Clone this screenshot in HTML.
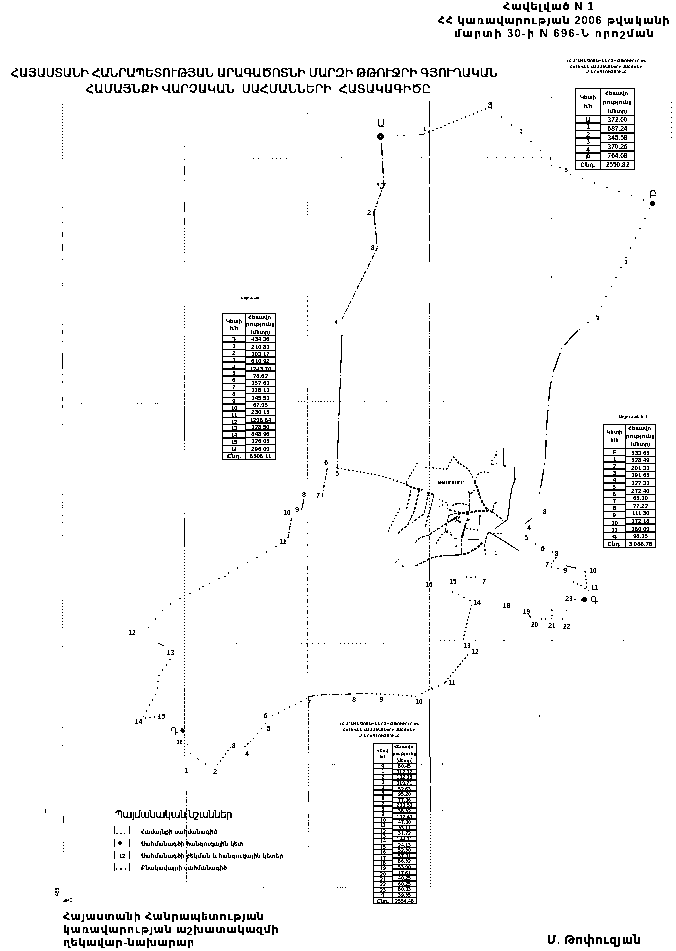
<!DOCTYPE html>
<html lang="hy"><head><meta charset="utf-8"><title>Հավելված N 1</title>
<style>
html,body{margin:0;padding:0;background:#fff}
body{width:676px;height:951px;position:relative;overflow:hidden;font-family:'Liberation Sans','DejaVu Sans',sans-serif;color:#000}
.t{position:absolute;white-space:pre;line-height:1;margin:0}
.b{font-weight:bold}
.ts{-webkit-text-stroke:.3px #000}
.ts2{-webkit-text-stroke:.2px #000}
svg{position:absolute;left:0;top:0}
svg text{font-family:'Liberation Sans','DejaVu Sans',sans-serif;fill:#000}
.ln{fill:none;stroke:#000;stroke-width:1}
.d1{stroke-dasharray:1.4 3;stroke-width:1.3}
.d2{stroke-dasharray:1.8 2;stroke-width:1.25}
.d3{stroke-dasharray:4 1.5 1.4 1.5;stroke-width:1.15}
.d4{stroke-dasharray:1.4 5;stroke-width:1.3}
.v{stroke-dasharray:3 1.3;stroke-width:1.2}
.v2{stroke-dasharray:1.7 1.8;stroke-width:1.2}
.vb{stroke-dasharray:3 1;stroke-width:1.8}
.g{fill:none;stroke:#000;stroke-width:1;stroke-dasharray:1 2}
.g2{fill:none;stroke:#000;stroke-width:1;stroke-dasharray:1 4}
.g4{fill:none;stroke:#000;stroke-width:1;stroke-dasharray:1.2 10}
.g3{fill:none;stroke:#000;stroke-width:1;stroke-dasharray:1 8}
.d5{stroke-dasharray:3 1}
.s1{stroke-dasharray:1.4 3;stroke-width:1.3}
.s2{stroke-dasharray:1.4 5;stroke-width:1.3}
.s3{stroke-dasharray:1.4 8;stroke-width:1.3}
.d9{stroke-dasharray:7 2 1 2}
.d10{stroke-dasharray:4 3 1 3}
.d13{stroke-dasharray:11 1.5 1 1.5 1 1.5}
.d14{stroke-dasharray:38 2 1 2}
.d11{stroke-dasharray:13 2 1.4 2;stroke-width:1.15}
.d12{stroke-dasharray:20 4 1.4 4;stroke-width:1.15}
.s4{stroke-dasharray:1.4 9.5;stroke-width:1.3}
.s5{stroke-dasharray:1.4 11.5;stroke-width:1.3}
.d6{stroke-dasharray:1 3 3 2}
.d7{stroke-dasharray:1 6 1 3}
.d8{stroke-dasharray:26 2.5}
.tb{fill:none;stroke:#000;stroke-width:1}
.tb2{fill:none;stroke:#000;stroke-width:2}

</style></head><body>
<svg width="0" height="0" style="position:absolute"><defs><filter id="bw" x="0" y="0" width="100%" height="100%" color-interpolation-filters="sRGB"><feComponentTransfer><feFuncR type="discrete" tableValues="0 0 0 0 0 0 0 0 0 0 0 1 1 1 1 1 1 1 1 1"/><feFuncG type="discrete" tableValues="0 0 0 0 0 0 0 0 0 0 0 1 1 1 1 1 1 1 1 1"/><feFuncB type="discrete" tableValues="0 0 0 0 0 0 0 0 0 0 0 1 1 1 1 1 1 1 1 1"/></feComponentTransfer></filter></defs></svg>
<div id="page" style="position:absolute;left:0;top:0;width:676px;height:951px;background:#fff;filter:url(#bw)">
<div class="t b" style="left:503px;top:0.5px;font-size:11px;letter-spacing:1.0px;">Հավելված N 1</div>
<div class="t b" style="left:437.5px;top:14.5px;font-size:11px;letter-spacing:0.92px;">ՀՀ կառավարության 2006 թվականի</div>
<div class="t b" style="left:454px;top:28px;font-size:11px;letter-spacing:1.36px;">մարտի 30-ի N 696-Ն որոշման</div>
<div class="t ts" style="left:10.5px;top:67px;font-size:12px;letter-spacing:-0.1px;">ՀԱՅԱՍՏԱՆԻ ՀԱՆՐԱՊԵՏՈՒԹՅԱՆ ԱՐԱԳԱԾՈՏՆԻ ՄԱՐԶԻ ԹԹՈՒՋՐԻ ԳՅՈՒՂԱԿԱՆ</div>
<div class="t ts" style="left:85.5px;top:83px;font-size:12px;letter-spacing:0.2px;">ՀԱՄԱՅՆՔԻ ՎԱՐՉԱԿԱՆ  ՍԱՀՄԱՆՆԵՐԻ  ՀԱՏԱԿԱԳԻԾԸ</div>
<div class="t ts2" style="left:115px;top:809.5px;font-size:10px;letter-spacing:-0.4px;">Պայմանական նշաններ</div>
<div class="t b" style="left:141px;top:829.2px;font-size:6.5px;transform:scaleX(.9);transform-origin:0 0;">Համայնքի սահմանագիծ</div>
<div class="t b" style="left:141px;top:841.2px;font-size:6.5px;transform:scaleX(.9);transform-origin:0 0;">Սահմանագծի հանգուցային կետ</div>
<div class="t b" style="left:141px;top:853.2px;font-size:6.5px;transform:scaleX(.9);transform-origin:0 0;">Սահմանագծի բեկման և հանգուցային կետեր</div>
<div class="t b" style="left:141px;top:865.2px;font-size:6.5px;transform:scaleX(.9);transform-origin:0 0;">Բնակավայրի սահմանագիծ</div>
<div class="t b" style="left:63px;top:911px;font-size:11px;letter-spacing:0.6px;">Հայաստանի Հանրապետության</div>
<div class="t b" style="left:63px;top:924px;font-size:11px;letter-spacing:0.65px;">կառավարության աշխատակազմի</div>
<div class="t b" style="left:63px;top:937px;font-size:11px;letter-spacing:0.6px;">ղեկավար-նախարար</div>
<div class="t b" style="left:547px;top:934px;font-size:12px;letter-spacing:0.4px;">Մ. Թոփուզյան</div>
<svg width="676" height="951" viewBox="0 0 676 951">
<g id="grid" shape-rendering="crispEdges">
<line class="g" x1="62.5" y1="104" x2="62.5" y2="161"/>
<rect x="62.0" y="207" width="1" height="1.2"/>
<rect x="62.0" y="222" width="1" height="1.2"/>
<rect x="62.0" y="258.6" width="1" height="1.2"/>
<rect x="62.0" y="283" width="1" height="1.2"/>
<rect x="62.0" y="284.5" width="1" height="1.2"/>
<rect x="62.0" y="324" width="1" height="1.2"/>
<line class="ln" x1="62.5" y1="232" x2="62.5" y2="237"/>
<line class="ln" x1="62.5" y1="244" x2="62.5" y2="251"/>
<line class="ln" x1="62.5" y1="330" x2="62.5" y2="334"/>
<rect x="62.0" y="340.6" width="1" height="1.2"/>
<rect x="62.0" y="374" width="1" height="1.2"/>
<rect x="62.0" y="424" width="1" height="1.2"/>
<line class="ln" x1="62.5" y1="353" x2="62.5" y2="369"/>
<line class="ln" x1="62.5" y1="381" x2="62.5" y2="383"/>
<line class="ln" x1="62.5" y1="397" x2="62.5" y2="401"/>
<line class="ln" x1="62.5" y1="405" x2="62.5" y2="408"/>
<rect x="62.0" y="494" width="1" height="1.2"/>
<rect x="62.0" y="502" width="1" height="1.2"/>
<rect x="62.0" y="504.5" width="1" height="1.2"/>
<rect x="62.0" y="507" width="1" height="1.2"/>
<rect x="62.0" y="514.6" width="1" height="1.2"/>
<rect x="62.0" y="521.7" width="1" height="1.2"/>
<rect x="62.0" y="534.8" width="1" height="1.2"/>
<line class="g" x1="62.5" y1="600" x2="62.5" y2="629"/>
<rect x="62.0" y="646" width="1" height="1.2"/>
<rect x="62.0" y="727" width="1" height="1.2"/>
<rect x="62.0" y="745" width="1" height="1.2"/>
<line class="ln" x1="63.5" y1="815.7" x2="63.5" y2="822.8"/>
<line class="g" x1="63.5" y1="842" x2="63.5" y2="853"/>
<line class="ln" x1="45.5" y1="809" x2="45.5" y2="813"/>
<rect x="184.0" y="146" width="1" height="1.2"/>
<rect x="184.0" y="159" width="1" height="1.2"/>
<rect x="184.0" y="180" width="1" height="1.2"/>
<rect x="184.0" y="261" width="1" height="1.2"/>
<line class="ln" x1="184.5" y1="166" x2="184.5" y2="175"/>
<line class="ln" x1="184.5" y1="202" x2="184.5" y2="212"/>
<line class="ln" x1="184.5" y1="218" x2="184.5" y2="225"/>
<line class="g" x1="184.5" y1="228" x2="184.5" y2="253"/>
<line class="g" x1="184.5" y1="306" x2="184.5" y2="330"/>
<line class="g" x1="184.5" y1="336" x2="184.5" y2="376"/>
<line class="ln d3" x1="184.5" y1="376" x2="184.5" y2="406"/>
<line class="ln" x1="184.5" y1="406" x2="184.5" y2="440"/>
<line class="g" x1="184.5" y1="440" x2="184.5" y2="451"/>
<rect x="184.0" y="513" width="1" height="1.2"/>
<line class="ln" x1="184.5" y1="518" x2="184.5" y2="546.5"/>
<line class="g" x1="184.5" y1="550" x2="184.5" y2="689"/>
<line class="ln d5" x1="184.5" y1="689" x2="184.5" y2="728"/>
<line class="g" x1="184.5" y1="728" x2="184.5" y2="757"/>
<line class="ln d3" x1="186.5" y1="791" x2="186.5" y2="883"/>
<line class="g" x1="307.5" y1="202" x2="307.5" y2="216"/>
<line class="g2" x1="307.5" y1="296" x2="307.5" y2="320"/>
<line class="g2" x1="307.5" y1="300" x2="307.5" y2="340"/>
<line class="ln d3" x1="307.5" y1="388" x2="307.5" y2="479"/>
<line class="g4" x1="307.5" y1="522" x2="307.5" y2="566"/>
<line class="ln d10" x1="307.5" y1="566" x2="307.5" y2="673"/>
<line class="ln d3" x1="308.5" y1="696" x2="308.5" y2="754"/>
<line class="g" x1="308.5" y1="764" x2="308.5" y2="786"/>
<line class="ln" x1="308.5" y1="791" x2="308.5" y2="801.5"/>
<line class="ln d3" x1="308.5" y1="814" x2="308.5" y2="832"/>
<rect x="308.0" y="846" width="1" height="1.2"/>
<line class="ln d8" x1="429.5" y1="101" x2="429.5" y2="262"/>
<line class="ln d13" x1="429.5" y1="303" x2="429.5" y2="466"/>
<line class="g" x1="429.5" y1="468" x2="429.5" y2="528"/>
<line class="ln d3" x1="429.5" y1="528" x2="429.5" y2="558"/>
<line class="ln" x1="429.5" y1="558" x2="429.5" y2="581"/>
<line class="ln d3" x1="429.5" y1="588" x2="429.5" y2="690"/>
<line class="ln" x1="429.5" y1="699" x2="429.5" y2="757"/>
<line class="ln d8" x1="430.5" y1="757" x2="430.5" y2="814"/>
<line class="g" x1="430.5" y1="814" x2="430.5" y2="887"/>
<rect x="551.0" y="97" width="1" height="1.2"/>
<rect x="551.0" y="164.5" width="1" height="1.2"/>
<rect x="551.0" y="217.8" width="1" height="1.2"/>
<rect x="551.0" y="276.4" width="1" height="1.2"/>
<rect x="551.0" y="609" width="1" height="1.2"/>
<rect x="551.0" y="617.7" width="1" height="1.2"/>
<line class="g2" x1="671.5" y1="102" x2="671.5" y2="141"/>
<rect x="252.5" y="158.0" width="1.2" height="1"/>
<rect x="257.5" y="158.0" width="1.2" height="1"/>
<rect x="272" y="158.0" width="1.2" height="1"/>
<rect x="276" y="158.0" width="1.2" height="1"/>
<rect x="280" y="158.0" width="1.2" height="1"/>
<rect x="286" y="158.0" width="1.2" height="1"/>
<rect x="340.8" y="157.0" width="1.2" height="1"/>
<rect x="420.7" y="157.0" width="1.2" height="1"/>
<rect x="307.0" y="112.5" width="1" height="1.2"/>
<line class="g3" x1="487" y1="157.5" x2="551" y2="157.5"/>
<line class="g" x1="298" y1="401.5" x2="306" y2="401.5"/>
<line class="g" x1="312" y1="401.5" x2="336" y2="401.5"/>
<rect x="320" y="401.0" width="1.2" height="1"/>
<rect x="340" y="401.0" width="1.2" height="1"/>
<rect x="363.5" y="401.0" width="1.2" height="1"/>
<rect x="386" y="401.0" width="1.2" height="1"/>
<rect x="443" y="401.0" width="1.2" height="1"/>
<rect x="80.5" y="403.0" width="1.2" height="1"/>
<rect x="137" y="403.0" width="1.2" height="1"/>
<rect x="141" y="403.0" width="1.2" height="1"/>
<rect x="155" y="403.0" width="1.2" height="1"/>
<rect x="157" y="403.0" width="1.2" height="1"/>
<rect x="439.5" y="640.0" width="1.2" height="1"/>
<rect x="444" y="640.0" width="1.2" height="1"/>
<rect x="449" y="640.0" width="1.2" height="1"/>
<rect x="454" y="640.0" width="1.2" height="1"/>
<rect x="475" y="640.0" width="1.2" height="1"/>
<rect x="503.4" y="640.0" width="1.2" height="1"/>
<rect x="551.4" y="640.0" width="1.2" height="1"/>
<rect x="623" y="640.0" width="1.2" height="1"/>
<rect x="235.5" y="643.0" width="1.2" height="1"/>
<rect x="301" y="643.0" width="1.2" height="1"/>
<rect x="306" y="643.0" width="1.2" height="1"/>
<rect x="312" y="643.0" width="1.2" height="1"/>
<rect x="318" y="643.0" width="1.2" height="1"/>
<rect x="324" y="643.0" width="1.2" height="1"/>
<rect x="340" y="643.0" width="1.2" height="1"/>
<rect x="344" y="643.0" width="1.2" height="1"/>
<rect x="348" y="643.0" width="1.2" height="1"/>
<rect x="352" y="643.0" width="1.2" height="1"/>
<rect x="356" y="643.0" width="1.2" height="1"/>
<rect x="360" y="643.0" width="1.2" height="1"/>
<rect x="365" y="643.0" width="1.2" height="1"/>
<rect x="383" y="643.0" width="1.2" height="1"/>
<rect x="332" y="764.0" width="1.2" height="1"/>
<rect x="333.5" y="764.0" width="1.2" height="1"/>
<rect x="420.6" y="764.0" width="1.2" height="1"/>
<rect x="441.9" y="764.0" width="1.2" height="1"/>
<rect x="262.6" y="887.0" width="1.2" height="1"/>
<rect x="337" y="887.0" width="1.2" height="1"/>
<rect x="339.5" y="887.0" width="1.2" height="1"/>
<rect x="342" y="887.0" width="1.2" height="1"/>
<rect x="344.5" y="887.0" width="1.2" height="1"/>
<rect x="442.0" y="763.3" width="1" height="1.2"/>
<rect x="442.0" y="810" width="1" height="1.2"/>
<rect x="538.5" y="715.4" width="1" height="1.2"/>
<rect x="202.3" y="585.5" width="1.2" height="1"/>
<rect x="224.3" y="576.1" width="1.2" height="1"/>
</g>
<g id="boundary">
<polyline class="ln d11" points="381.5,143 383.8,185"/>
<polyline class="ln d3" points="383.8,185 373.8,212.5"/>
<polyline class="ln d11" points="373.8,212.5 377.4,248"/>
<polyline class="ln d3" points="377.4,248 340.8,321.4"/>
<polyline class="ln d14" points="342,335 337,468"/>
<polyline class="ln d2" points="337,468 380,475.5 406,484"/>
<polyline class="ln d3" points="327.3,468 322,497"/>
<polyline class="ln" points="304,499 301.4,510.4"/>
<polyline class="ln d3" points="291.5,517.7 288,538.4"/>
<polyline class="ln s4" points="286,541 203.5,587 177.5,599.6 165,607.4 152.6,622.4 143.8,633"/>
<polyline class="ln" points="157.8,642.9 164,645.9"/>
<polyline class="ln s2" points="170.4,659 159,675.6 156.5,693 147.7,708.3 142,719"/>
<polyline class="ln s1" points="145,718 161.5,716"/>
<polyline class="ln s3" points="184,735 190.5,753.5 204.3,763.6 213,766"/>
<polyline class="ln s1" points="217,765 231,747"/>
<polyline class="ln d2" points="244.6,747.3 250.8,741"/>
<polyline class="ln s2" points="253,739 267,722"/>
<polyline class="ln s2" points="272,716 295.8,704 308,697.5"/>
<polyline class="ln d9" points="308.5,696.5 320.7,695 366.8,693.4"/>
<polyline class="ln s1" points="366.8,693.4 418.3,696.2"/>
<polyline class="ln d2" points="421,694 427,691 432.5,687.3"/>
<polyline class="ln s2" points="397,135.5 408,135.5"/>
<line class="ln" x1="419" y1="134.5" x2="423.5" y2="134.5"/>
<text x="424.5" y="131" font-size="5.6" text-anchor="middle" font-weight="bold">1</text>
<polyline class="ln d2" points="377,183.5 386,183.5"/>
<polyline class="ln d2" points="378,184 381.5,190 385,184"/>
<polyline class="ln s1" points="424,134 489,107.5"/>
<polyline class="ln s5" points="491,108 521,133 566,173 652,203"/>
<polyline class="ln s4" points="650,208 624,261.5 595.7,317.2 578,330"/>
<polyline class="ln d12" points="578,330 562,347.7 553,372.6 549.6,390 546.7,425.8 545.3,461 539,496.8"/>
<polyline class="ln s3" points="527,539 543,548 556,553"/>
<polyline class="ln d2" points="556.5,557 549.5,566"/>
<polyline class="ln s2" points="551,567 565,570"/>
<polyline class="ln" points="565.5,565.7 576.2,568.2"/>
<polyline class="ln d2" points="585,571 586.8,588.7"/>
<polyline class="ln s1" points="572.6,581.6 583.3,587 588.6,590.5"/>
<polyline class="ln s2" points="582,600 571,599"/>
<polyline class="ln s3" points="567,610 561,622"/>
<polyline class="ln s1" points="552,610 552,618"/>
<polyline class="ln s1" points="540.7,619 546,619"/>
<polyline class="ln" points="527.5,613 531,618"/>
<polyline class="ln s2" points="452,591.6 471.5,601"/>
<polyline class="ln d2" points="471.5,604.7 462.6,642"/>
<polyline class="ln d2" points="468,654.4 444.8,682.8"/>
<polyline class="ln s2" points="444.8,682.8 431,690"/>
</g>
<g id="village">
<polyline class="ln v2" points="406.0,482.6 417.9,462.0"/>
<polyline class="ln vb" points="406.0,484.0 412.0,487.9 422.6,489.9"/>
<polyline class="ln vb" points="427.3,492.6 433.9,494.6"/>
<polyline class="ln v2" points="425.3,467.3 446.6,469.3 453.2,456.7 459.9,463.3 470.0,471.3"/>
<polyline class="ln v" points="410.6,489.9 410.0,495.3 406.6,508.6"/>
<polyline class="ln v2" points="400.0,508.6 393.3,520.6 386.7,534.5"/>
<polyline class="ln v" points="419.3,489.9 414.6,509.9 408.0,524.6 398.0,533.2"/>
<polyline class="ln v" points="428.6,493.3 423.9,513.9 419.9,516.6 412.6,522.6"/>
<polyline class="ln v" points="433.9,494.6 431.3,505.9 427.9,516.6 425.3,527.2"/>
<polyline class="ln v2" points="438.6,499.3 446.6,502.6 447.9,508.6"/>
<polyline class="ln v2" points="438.6,507.2 443.9,504.6"/>
<polyline class="ln v2" points="451.9,505.9 457.2,503.3 465.2,503.9 470.0,505.9"/>
<polyline class="ln v" points="449.2,509.9 454.6,511.2 459.9,512.6 470.0,515.2"/>
<polyline class="ln v" points="449.2,515.2 446.6,524.6 445.2,531.2 451.9,535.2"/>
<polyline class="ln v" points="454.6,517.2 459.9,522.6"/>
<polyline class="ln v" points="459.9,516.6 454.6,522.6"/>
<polyline class="ln v" points="465.2,524.6 462.5,537.9"/>
<polyline class="ln" points="503.9,447.3 503.9,466.0 506.6,466.0"/>
<polyline class="ln v2" points="496.6,450.7 495.9,456.0 491.9,460.0 491.3,465.3 497.3,463.3"/>
<polyline class="ln v2" points="453.3,456.6 458.0,462.6 466.0,467.3 470.0,472.0 474.6,481.3"/>
<polyline class="ln v2" points="474.6,481.3 478.6,473.3 484.6,472.0 490.6,473.3"/>
<polyline class="ln" points="514.6,467.3 515.0,479.9 511.9,487.9 509.9,499.9 508.6,511.9 507.2,519.9 503.3,522.5 495.3,528.5"/>
<polyline class="ln vb" points="474.6,481.3 476.6,486.6 478.6,491.9 480.6,498.6 484.6,506.6 488.6,510.6"/>
<polyline class="ln v" points="468.6,491.3 470.0,494.6 474.6,489.9"/>
<polyline class="ln v" points="469.3,494.6 469.3,511.9"/>
<polyline class="ln vb" points="458.0,512.6 470.0,512.6 476.6,511.2 488.6,510.6 492.6,511.9"/>
<polyline class="ln v" points="492.6,511.9 493.9,503.9 497.9,501.9"/>
<polyline class="ln v" points="492.6,511.9 503.3,520.5"/>
<polyline class="ln v2" points="452.7,505.2 459.3,503.2 466.0,504.6"/>
<polyline class="ln v" points="450.0,514.6 460.7,512.6"/>
<polyline class="ln v" points="450.0,521.2 458.0,517.2 460.7,522.5"/>
<polyline class="ln v" points="480.0,514.6 479.3,525.2"/>
<polyline class="ln vb" points="467.3,519.9 471.3,519.2"/>
<polyline class="ln v" points="415.3,542.6 419.9,537.9 429.3,534.6 438.6,528.6 446.6,523.3 454.6,518.6 459.9,513.3 470.0,511.3"/>
<polyline class="ln v2" points="395.3,562.6 399.3,558.6"/>
<polyline class="ln v2" points="402.0,565.9 406.6,567.2"/>
<polyline class="ln v" points="415.3,565.9 425.3,561.2 429.3,558.6 437.2,556.6 446.6,555.3"/>
<polyline class="ln" points="446.6,555.3 461.2,554.9 461.2,550.6"/>
<polyline class="ln v" points="461.2,550.6 461.9,535.9 465.2,526.6 467.9,517.3"/>
<polyline class="ln v2" points="435.9,543.9 441.2,535.3 446.6,530.6 450.6,532.6"/>
<polyline class="ln v" points="453.9,538.6 457.9,538.6"/>
<polyline class="ln v" points="454.6,546.6 458.6,545.3"/>
<polyline class="ln" points="488.6,532.0 503.3,540.6 518.6,550.6"/>
<polyline class="ln v" points="488.6,532.0 485.9,538.6 484.6,545.3 485.3,554.6"/>
<polyline class="ln vb" points="463.3,554.6 470.0,551.9 478.0,547.3 482.6,542.6"/>
<polyline class="ln" points="468.0,539.3 478.6,539.3"/>
<polyline class="ln v2" points="466.0,528.6 478.0,530.0"/>
<polyline class="ln v" points="479.3,517.3 479.3,526.0"/>
<polyline class="ln v2" points="489.9,533.3 501.9,533.3"/>
<polyline class="ln" points="524.6,524.6 532.5,517.3"/>
<polyline class="ln d1" points="466.0,577.2 476.6,577.2"/>
<text x="450.6" y="484.1" font-size="4.5" text-anchor="middle" font-weight="bold">ԹԹՈՒՋՈՒՐ</text>
<text x="495.9" y="554.6" font-size="5" text-anchor="middle" font-weight="bold">1</text>
</g>
<circle cx="380.5" cy="136.5" r="2.1" fill="#fff" stroke="#000" stroke-width="2.1"/>
<circle cx="652.5" cy="203.5" r="2.7" fill="#000"/>
<circle cx="584.5" cy="599.5" r="2.7" fill="#000"/>
<circle cx="182.5" cy="730.5" r="2.2" fill="#000"/>
<text x="381" y="127" font-size="10" text-anchor="middle">Ա</text>
<text x="653" y="198" font-size="10" text-anchor="middle">Բ</text>
<text x="594" y="603.5" font-size="10" text-anchor="middle">Գ</text>
<text x="174" y="735" font-size="10" text-anchor="middle">Դ</text>
<text x="490" y="107.5" font-size="9.0" text-anchor="middle" font-weight="bold">3</text>
<text x="521" y="133" font-size="5.6" text-anchor="middle" font-weight="bold">3</text>
<text x="566.5" y="172" font-size="5.6" text-anchor="middle" font-weight="bold">5</text>
<text x="626" y="264" font-size="5.6" text-anchor="middle" font-weight="bold">1</text>
<text x="598" y="320" font-size="5.6" text-anchor="middle" font-weight="bold">2</text>
<text x="369" y="214.5" font-size="6.6" text-anchor="middle" font-weight="bold">2</text>
<text x="372.5" y="250" font-size="6.6" text-anchor="middle" font-weight="bold">3</text>
<text x="336" y="324" font-size="5.6" text-anchor="middle" font-weight="bold">4</text>
<text x="337" y="475.5" font-size="6.6" text-anchor="middle" font-weight="bold">5</text>
<text x="326" y="465" font-size="6.6" text-anchor="middle" font-weight="bold">6</text>
<text x="318" y="498" font-size="6.6" text-anchor="middle" font-weight="bold">7</text>
<text x="304" y="497" font-size="7.0" text-anchor="middle" font-weight="bold">8</text>
<text x="297" y="512" font-size="6.6" text-anchor="middle" font-weight="bold">9</text>
<text x="287" y="515" font-size="6.6" text-anchor="middle" font-weight="bold">10</text>
<text x="283" y="544" font-size="6.6" text-anchor="middle" font-weight="bold">11</text>
<text x="132" y="635" font-size="6.6" text-anchor="middle" font-weight="bold">12</text>
<text x="170.5" y="654.5" font-size="6.6" text-anchor="middle" font-weight="bold">13</text>
<text x="138.5" y="723.5" font-size="6.6" text-anchor="middle" font-weight="bold">14</text>
<text x="161.5" y="718.5" font-size="6.6" text-anchor="middle" font-weight="bold">15</text>
<text x="179.5" y="744" font-size="5.6" text-anchor="middle" font-weight="bold">16</text>
<text x="186" y="772.5" font-size="6.5" text-anchor="middle" font-weight="bold">1</text>
<text x="215" y="774" font-size="6.6" text-anchor="middle" font-weight="bold">2</text>
<text x="233.5" y="748" font-size="6.6" text-anchor="middle" font-weight="bold">3</text>
<text x="247" y="755.5" font-size="6.6" text-anchor="middle" font-weight="bold">4</text>
<text x="268.5" y="731" font-size="6.6" text-anchor="middle" font-weight="bold">5</text>
<text x="265.5" y="718" font-size="6.6" text-anchor="middle" font-weight="bold">6</text>
<text x="309" y="704.5" font-size="6.6" text-anchor="middle" font-weight="bold">7</text>
<text x="354" y="702" font-size="6.6" text-anchor="middle" font-weight="bold">8</text>
<text x="381.5" y="702" font-size="6.6" text-anchor="middle" font-weight="bold">9</text>
<text x="419" y="704" font-size="6.6" text-anchor="middle" font-weight="bold">10</text>
<text x="544.5" y="514" font-size="6.6" text-anchor="middle" font-weight="bold">3</text>
<text x="529" y="530" font-size="6.6" text-anchor="middle" font-weight="bold">4</text>
<text x="526" y="540" font-size="6.6" text-anchor="middle" font-weight="bold">5</text>
<text x="542.5" y="551" font-size="6.6" text-anchor="middle" font-weight="bold">6</text>
<text x="556.5" y="556" font-size="6.6" text-anchor="middle" font-weight="bold">8</text>
<text x="547" y="567" font-size="6.6" text-anchor="middle" font-weight="bold">7</text>
<text x="565.5" y="573" font-size="6.6" text-anchor="middle" font-weight="bold">9</text>
<text x="593" y="572.5" font-size="6.6" text-anchor="middle" font-weight="bold">10</text>
<text x="594.5" y="589.5" font-size="6.6" text-anchor="middle" font-weight="bold">11</text>
<text x="569" y="601" font-size="6.6" text-anchor="middle" font-weight="bold">23</text>
<text x="566.5" y="629" font-size="6.6" text-anchor="middle" font-weight="bold">22</text>
<text x="552" y="627.5" font-size="6.6" text-anchor="middle" font-weight="bold">21</text>
<text x="534.5" y="627" font-size="6.6" text-anchor="middle" font-weight="bold">20</text>
<text x="526.5" y="613.5" font-size="6.6" text-anchor="middle" font-weight="bold">19</text>
<text x="506.5" y="608" font-size="6.6" text-anchor="middle" font-weight="bold">18</text>
<text x="429" y="586.5" font-size="6.6" text-anchor="middle" font-weight="bold">16</text>
<text x="453" y="584" font-size="6.6" text-anchor="middle" font-weight="bold">15</text>
<text x="484" y="583.5" font-size="6.6" text-anchor="middle" font-weight="bold">7</text>
<text x="477" y="604.5" font-size="6.6" text-anchor="middle" font-weight="bold">14</text>
<text x="467" y="648" font-size="6.6" text-anchor="middle" font-weight="bold">13</text>
<text x="475" y="654" font-size="6.6" text-anchor="middle" font-weight="bold">12</text>
<text x="452" y="684.5" font-size="6.6" text-anchor="middle" font-weight="bold">11</text>
<g id="tables">
<text x="606" y="62" font-size="3.85" text-anchor="middle" font-weight="bold">ՀՀ ԱՐԱԳԱԾՈՏՆԻ ՄԱՐԶԻ ԹԹՈՒՋՈՒՐ ԵՎ</text>
<text x="606" y="67.5" font-size="3.85" text-anchor="middle" font-weight="bold">ՀԱՐԵՎԱՆ ՀԱՄԱՅՆՔՆԵՐԻ ՍԱՀՄԱՆԻ</text>
<text x="606" y="73" font-size="3.85" text-anchor="middle" font-weight="bold">ՆԿԱՐԱԳՐՈՒԹՅՈՒՆԸ</text>
<rect class="tb" x="575.5" y="88.5" width="59.0" height="81.0"/>
<line class="tb" x1="600.5" y1="88.5" x2="600.5" y2="169.5"/>
<line class="tb" x1="575.5" y1="115.5" x2="634.5" y2="115.5"/>
<text x="588.0" y="99.4" font-size="5.5" text-anchor="middle" font-weight="bold">Կետի</text>
<text x="588.0" y="108.4" font-size="5.5" text-anchor="middle" font-weight="bold">հ/հ</text>
<text x="617.5" y="94.9" font-size="5.5" text-anchor="middle" font-weight="bold">Հեռավո-</text>
<text x="617.5" y="103.9" font-size="5.5" text-anchor="middle" font-weight="bold">րությունը</text>
<text x="617.5" y="112.9" font-size="5.5" text-anchor="middle" font-weight="bold">(մետր)</text>
<text x="617.5" y="122.3" font-size="6.5" text-anchor="middle" font-weight="bold">372.00</text>
<line class="tb" x1="600.5" y1="124.5" x2="634.5" y2="124.5"/>
<text x="617.5" y="131.3" font-size="6.5" text-anchor="middle" font-weight="bold">687.24</text>
<line class="tb2" x1="600.5" y1="133" x2="634.5" y2="133"/>
<text x="617.5" y="140.3" font-size="6.5" text-anchor="middle" font-weight="bold">345.58</text>
<line class="tb" x1="600.5" y1="142.5" x2="634.5" y2="142.5"/>
<text x="617.5" y="149.3" font-size="6.5" text-anchor="middle" font-weight="bold">370.26</text>
<line class="tb2" x1="600.5" y1="151" x2="634.5" y2="151"/>
<text x="617.5" y="158.3" font-size="6.5" text-anchor="middle" font-weight="bold">764.08</text>
<line class="tb" x1="600.5" y1="160.5" x2="634.5" y2="160.5"/>
<text x="617.5" y="167.3" font-size="6.5" text-anchor="middle" font-weight="bold">2550.82</text>
<text x="588.0" y="121.6" font-size="6.5" text-anchor="middle" font-weight="bold">Ա</text>
<line class="tb2" x1="575.5" y1="123" x2="600.5" y2="123"/>
<text x="588.0" y="129.1" font-size="6.5" text-anchor="middle" font-weight="bold">1</text>
<line class="tb" x1="575.5" y1="130.5" x2="600.5" y2="130.5"/>
<text x="588.0" y="136.6" font-size="6.5" text-anchor="middle" font-weight="bold">2</text>
<line class="tb2" x1="575.5" y1="138" x2="600.5" y2="138"/>
<text x="588.0" y="144.1" font-size="6.5" text-anchor="middle" font-weight="bold">3</text>
<line class="tb" x1="575.5" y1="145.5" x2="600.5" y2="145.5"/>
<text x="588.0" y="151.6" font-size="6.5" text-anchor="middle" font-weight="bold">4</text>
<line class="tb2" x1="575.5" y1="153" x2="600.5" y2="153"/>
<text x="588.0" y="159.1" font-size="6.5" text-anchor="middle" font-weight="bold">Բ</text>
<line class="tb" x1="575.5" y1="160.5" x2="600.5" y2="160.5"/>
<text x="588.0" y="167.3" font-size="6.5" text-anchor="middle" font-weight="bold">Ընդ.</text>
<text x="250" y="299" font-size="3.5" text-anchor="middle" font-weight="bold">Աղյուսակ</text>
<rect class="tb" x="222.5" y="313.5" width="53.0" height="146.0"/>
<line class="tb" x1="245.5" y1="313.5" x2="245.5" y2="459.5"/>
<line class="tb" x1="222.5" y1="335.5" x2="275.5" y2="335.5"/>
<text x="234.0" y="322.8" font-size="5.5" text-anchor="middle" font-weight="bold">Կետի</text>
<text x="234.0" y="330.1" font-size="5.5" text-anchor="middle" font-weight="bold">հ/հ</text>
<text x="260.5" y="319.1" font-size="5.5" text-anchor="middle" font-weight="bold">Հեռավո-</text>
<text x="260.5" y="326.4" font-size="5.5" text-anchor="middle" font-weight="bold">րությունը</text>
<text x="260.5" y="333.8" font-size="5.5" text-anchor="middle" font-weight="bold">(մետր)</text>
<text x="260.5" y="341.3" font-size="6" text-anchor="middle" font-weight="bold">434.36</text>
<line class="tb" x1="245.5" y1="342.5" x2="275.5" y2="342.5"/>
<text x="260.5" y="348.6" font-size="6" text-anchor="middle" font-weight="bold">210.81</text>
<line class="tb" x1="245.5" y1="350.5" x2="275.5" y2="350.5"/>
<text x="260.5" y="355.9" font-size="6" text-anchor="middle" font-weight="bold">303.17</text>
<line class="tb2" x1="245.5" y1="357" x2="275.5" y2="357"/>
<text x="260.5" y="363.2" font-size="6" text-anchor="middle" font-weight="bold">610.92</text>
<line class="tb2" x1="245.5" y1="364" x2="275.5" y2="364"/>
<text x="260.5" y="370.5" font-size="6" text-anchor="middle" font-weight="bold">1243.70</text>
<line class="tb2" x1="245.5" y1="371" x2="275.5" y2="371"/>
<text x="260.5" y="377.8" font-size="6" text-anchor="middle" font-weight="bold">78.62</text>
<line class="tb" x1="245.5" y1="379.5" x2="275.5" y2="379.5"/>
<text x="260.5" y="385.1" font-size="6" text-anchor="middle" font-weight="bold">357.61</text>
<line class="tb" x1="245.5" y1="386.5" x2="275.5" y2="386.5"/>
<text x="260.5" y="392.4" font-size="6" text-anchor="middle" font-weight="bold">118.13</text>
<line class="tb" x1="245.5" y1="393.5" x2="275.5" y2="393.5"/>
<text x="260.5" y="399.7" font-size="6" text-anchor="middle" font-weight="bold">145.51</text>
<line class="tb" x1="245.5" y1="401.5" x2="275.5" y2="401.5"/>
<text x="260.5" y="407.0" font-size="6" text-anchor="middle" font-weight="bold">67.05</text>
<line class="tb" x1="245.5" y1="408.5" x2="275.5" y2="408.5"/>
<text x="260.5" y="414.2" font-size="6" text-anchor="middle" font-weight="bold">230.15</text>
<line class="tb" x1="245.5" y1="415.5" x2="275.5" y2="415.5"/>
<text x="260.5" y="421.5" font-size="6" text-anchor="middle" font-weight="bold">1206.64</text>
<line class="tb2" x1="245.5" y1="423" x2="275.5" y2="423"/>
<text x="260.5" y="428.8" font-size="6" text-anchor="middle" font-weight="bold">328.50</text>
<line class="tb2" x1="245.5" y1="430" x2="275.5" y2="430"/>
<text x="260.5" y="436.1" font-size="6" text-anchor="middle" font-weight="bold">848.96</text>
<line class="tb" x1="245.5" y1="437.5" x2="275.5" y2="437.5"/>
<text x="260.5" y="443.4" font-size="6" text-anchor="middle" font-weight="bold">126.05</text>
<line class="tb" x1="245.5" y1="444.5" x2="275.5" y2="444.5"/>
<text x="260.5" y="450.7" font-size="6" text-anchor="middle" font-weight="bold">296.00</text>
<line class="tb" x1="245.5" y1="452.5" x2="275.5" y2="452.5"/>
<text x="260.5" y="458.0" font-size="6" text-anchor="middle" font-weight="bold">6506.11</text>
<text x="234.0" y="341.1" font-size="6" text-anchor="middle" font-weight="bold">Դ</text>
<line class="tb2" x1="222.5" y1="342" x2="245.5" y2="342"/>
<text x="234.0" y="348.0" font-size="6" text-anchor="middle" font-weight="bold">1</text>
<line class="tb" x1="222.5" y1="349.5" x2="245.5" y2="349.5"/>
<text x="234.0" y="354.8" font-size="6" text-anchor="middle" font-weight="bold">2</text>
<line class="tb" x1="222.5" y1="356.5" x2="245.5" y2="356.5"/>
<text x="234.0" y="361.7" font-size="6" text-anchor="middle" font-weight="bold">3</text>
<line class="tb2" x1="222.5" y1="362" x2="245.5" y2="362"/>
<text x="234.0" y="368.6" font-size="6" text-anchor="middle" font-weight="bold">4</text>
<line class="tb2" x1="222.5" y1="369" x2="245.5" y2="369"/>
<text x="234.0" y="375.4" font-size="6" text-anchor="middle" font-weight="bold">5</text>
<line class="tb2" x1="222.5" y1="376" x2="245.5" y2="376"/>
<text x="234.0" y="382.3" font-size="6" text-anchor="middle" font-weight="bold">6</text>
<line class="tb" x1="222.5" y1="383.5" x2="245.5" y2="383.5"/>
<text x="234.0" y="389.1" font-size="6" text-anchor="middle" font-weight="bold">7</text>
<line class="tb" x1="222.5" y1="390.5" x2="245.5" y2="390.5"/>
<text x="234.0" y="396.0" font-size="6" text-anchor="middle" font-weight="bold">8</text>
<line class="tb" x1="222.5" y1="397.5" x2="245.5" y2="397.5"/>
<text x="234.0" y="402.9" font-size="6" text-anchor="middle" font-weight="bold">9</text>
<line class="tb2" x1="222.5" y1="404" x2="245.5" y2="404"/>
<text x="234.0" y="409.7" font-size="6" text-anchor="middle" font-weight="bold">10</text>
<line class="tb2" x1="222.5" y1="411" x2="245.5" y2="411"/>
<text x="234.0" y="416.6" font-size="6" text-anchor="middle" font-weight="bold">11</text>
<line class="tb" x1="222.5" y1="417.5" x2="245.5" y2="417.5"/>
<text x="234.0" y="423.5" font-size="6" text-anchor="middle" font-weight="bold">12</text>
<line class="tb" x1="222.5" y1="424.5" x2="245.5" y2="424.5"/>
<text x="234.0" y="430.3" font-size="6" text-anchor="middle" font-weight="bold">13</text>
<line class="tb2" x1="222.5" y1="431" x2="245.5" y2="431"/>
<text x="234.0" y="437.2" font-size="6" text-anchor="middle" font-weight="bold">14</text>
<line class="tb2" x1="222.5" y1="438" x2="245.5" y2="438"/>
<text x="234.0" y="444.1" font-size="6" text-anchor="middle" font-weight="bold">15</text>
<line class="tb" x1="222.5" y1="445.5" x2="245.5" y2="445.5"/>
<text x="234.0" y="450.9" font-size="6" text-anchor="middle" font-weight="bold">Ա</text>
<line class="tb" x1="222.5" y1="452.5" x2="245.5" y2="452.5"/>
<text x="234.0" y="458.0" font-size="6" text-anchor="middle" font-weight="bold">Ընդ.</text>
<text x="633" y="418" font-size="4.1" text-anchor="middle" font-weight="bold">Աղյուսակ N 3</text>
<rect class="tb" x="603.5" y="424.5" width="52.0" height="123.0"/>
<line class="tb" x1="625.5" y1="424.5" x2="625.5" y2="547.5"/>
<line class="tb" x1="603.5" y1="448.5" x2="655.5" y2="448.5"/>
<text x="614.5" y="434.4" font-size="5.5" text-anchor="middle" font-weight="bold">Կետի</text>
<text x="614.5" y="442.4" font-size="5.5" text-anchor="middle" font-weight="bold">հ/հ</text>
<text x="640.5" y="430.4" font-size="5.5" text-anchor="middle" font-weight="bold">Հեռավո-</text>
<text x="640.5" y="438.4" font-size="5.5" text-anchor="middle" font-weight="bold">րությունը</text>
<text x="640.5" y="446.4" font-size="5.5" text-anchor="middle" font-weight="bold">(մետր)</text>
<text x="640.5" y="454.5" font-size="6" text-anchor="middle" font-weight="bold">533.65</text>
<line class="tb" x1="625.5" y1="456.5" x2="655.5" y2="456.5"/>
<text x="640.5" y="462.1" font-size="6" text-anchor="middle" font-weight="bold">528.49</text>
<line class="tb" x1="625.5" y1="463.5" x2="655.5" y2="463.5"/>
<text x="640.5" y="469.7" font-size="6" text-anchor="middle" font-weight="bold">201.31</text>
<line class="tb" x1="625.5" y1="471.5" x2="655.5" y2="471.5"/>
<text x="640.5" y="477.3" font-size="6" text-anchor="middle" font-weight="bold">191.65</text>
<line class="tb" x1="625.5" y1="478.5" x2="655.5" y2="478.5"/>
<text x="640.5" y="484.9" font-size="6" text-anchor="middle" font-weight="bold">127.33</text>
<line class="tb" x1="625.5" y1="486.5" x2="655.5" y2="486.5"/>
<text x="640.5" y="492.5" font-size="6" text-anchor="middle" font-weight="bold">272.40</text>
<line class="tb" x1="625.5" y1="494.5" x2="655.5" y2="494.5"/>
<text x="640.5" y="500.2" font-size="6" text-anchor="middle" font-weight="bold">65.10</text>
<line class="tb" x1="625.5" y1="501.5" x2="655.5" y2="501.5"/>
<text x="640.5" y="507.8" font-size="6" text-anchor="middle" font-weight="bold">77.22</text>
<line class="tb" x1="625.5" y1="509.5" x2="655.5" y2="509.5"/>
<text x="640.5" y="515.4" font-size="6" text-anchor="middle" font-weight="bold">111.30</text>
<line class="tb" x1="625.5" y1="517.5" x2="655.5" y2="517.5"/>
<text x="640.5" y="523.0" font-size="6" text-anchor="middle" font-weight="bold">172.18</text>
<line class="tb2" x1="625.5" y1="524" x2="655.5" y2="524"/>
<text x="640.5" y="530.6" font-size="6" text-anchor="middle" font-weight="bold">160.00</text>
<line class="tb2" x1="625.5" y1="532" x2="655.5" y2="532"/>
<text x="640.5" y="538.2" font-size="6" text-anchor="middle" font-weight="bold">98.15</text>
<line class="tb" x1="625.5" y1="539.5" x2="655.5" y2="539.5"/>
<text x="640.5" y="545.9" font-size="6" text-anchor="middle" font-weight="bold">3,088.78</text>
<text x="614.5" y="454.2" font-size="6" text-anchor="middle" font-weight="bold">Բ</text>
<line class="tb" x1="603.5" y1="455.5" x2="625.5" y2="455.5"/>
<text x="614.5" y="461.2" font-size="6" text-anchor="middle" font-weight="bold">1</text>
<line class="tb2" x1="603.5" y1="462" x2="625.5" y2="462"/>
<text x="614.5" y="468.2" font-size="6" text-anchor="middle" font-weight="bold">2</text>
<line class="tb2" x1="603.5" y1="469" x2="625.5" y2="469"/>
<text x="614.5" y="475.3" font-size="6" text-anchor="middle" font-weight="bold">3</text>
<line class="tb2" x1="603.5" y1="476" x2="625.5" y2="476"/>
<text x="614.5" y="482.3" font-size="6" text-anchor="middle" font-weight="bold">4</text>
<line class="tb2" x1="603.5" y1="483" x2="625.5" y2="483"/>
<text x="614.5" y="489.3" font-size="6" text-anchor="middle" font-weight="bold">5</text>
<line class="tb2" x1="603.5" y1="490" x2="625.5" y2="490"/>
<text x="614.5" y="496.4" font-size="6" text-anchor="middle" font-weight="bold">6</text>
<line class="tb" x1="603.5" y1="497.5" x2="625.5" y2="497.5"/>
<text x="614.5" y="503.4" font-size="6" text-anchor="middle" font-weight="bold">7</text>
<line class="tb" x1="603.5" y1="504.5" x2="625.5" y2="504.5"/>
<text x="614.5" y="510.4" font-size="6" text-anchor="middle" font-weight="bold">8</text>
<line class="tb" x1="603.5" y1="511.5" x2="625.5" y2="511.5"/>
<text x="614.5" y="517.4" font-size="6" text-anchor="middle" font-weight="bold">9</text>
<line class="tb" x1="603.5" y1="518.5" x2="625.5" y2="518.5"/>
<text x="614.5" y="524.5" font-size="6" text-anchor="middle" font-weight="bold">10</text>
<line class="tb" x1="603.5" y1="525.5" x2="625.5" y2="525.5"/>
<text x="614.5" y="531.5" font-size="6" text-anchor="middle" font-weight="bold">11</text>
<line class="tb" x1="603.5" y1="532.5" x2="625.5" y2="532.5"/>
<text x="614.5" y="538.5" font-size="6" text-anchor="middle" font-weight="bold">Գ</text>
<line class="tb" x1="603.5" y1="539.5" x2="625.5" y2="539.5"/>
<text x="614.5" y="545.9" font-size="6" text-anchor="middle" font-weight="bold">Ընդ.</text>
<text x="379" y="724.5" font-size="3.85" text-anchor="middle" font-weight="bold">ՀՀ ԱՐԱԳԱԾՈՏՆԻ ՄԱՐԶԻ ԹԹՈՒՋՈՒՐ ԵՎ</text>
<text x="379" y="730.5" font-size="3.85" text-anchor="middle" font-weight="bold">ՀԱՐԵՎԱՆ ՀԱՄԱՅՆՔՆԵՐԻ ՍԱՀՄԱՆԻ</text>
<text x="379" y="736.5" font-size="3.85" text-anchor="middle" font-weight="bold">ՆԿԱՐԱԳՐՈՒԹՅՈՒՆԸ</text>
<rect class="tb" x="373.5" y="743.5" width="43.0" height="160.0"/>
<line class="tb" x1="392.5" y1="743.5" x2="392.5" y2="903.5"/>
<line class="tb" x1="373.5" y1="763.5" x2="416.5" y2="763.5"/>
<text x="383.0" y="751.8" font-size="4.6" text-anchor="middle" font-weight="bold">Կետի</text>
<text x="383.0" y="758.4" font-size="4.6" text-anchor="middle" font-weight="bold">հ/հ</text>
<text x="404.5" y="748.4" font-size="4.6" text-anchor="middle" font-weight="bold">Հեռավո-</text>
<text x="404.5" y="755.1" font-size="4.6" text-anchor="middle" font-weight="bold">րությունը</text>
<text x="404.5" y="761.8" font-size="4.6" text-anchor="middle" font-weight="bold">(մետր)</text>
<text x="404.5" y="768.2" font-size="5.2" text-anchor="middle" font-weight="bold">80.45</text>
<line class="tb" x1="392.5" y1="769.5" x2="416.5" y2="769.5"/>
<text x="404.5" y="773.8" font-size="5.2" text-anchor="middle" font-weight="bold">117.32</text>
<line class="tb2" x1="392.5" y1="774" x2="416.5" y2="774"/>
<text x="404.5" y="779.4" font-size="5.2" text-anchor="middle" font-weight="bold">102.15</text>
<line class="tb2" x1="392.5" y1="780" x2="416.5" y2="780"/>
<text x="404.5" y="785.0" font-size="5.2" text-anchor="middle" font-weight="bold">110.71</text>
<line class="tb" x1="392.5" y1="785.5" x2="416.5" y2="785.5"/>
<text x="404.5" y="790.6" font-size="5.2" text-anchor="middle" font-weight="bold">52.63</text>
<line class="tb2" x1="392.5" y1="791" x2="416.5" y2="791"/>
<text x="404.5" y="796.2" font-size="5.2" text-anchor="middle" font-weight="bold">95.20</text>
<line class="tb" x1="392.5" y1="797.5" x2="416.5" y2="797.5"/>
<text x="404.5" y="801.8" font-size="5.2" text-anchor="middle" font-weight="bold">77.36</text>
<line class="tb" x1="392.5" y1="802.5" x2="416.5" y2="802.5"/>
<text x="404.5" y="807.4" font-size="5.2" text-anchor="middle" font-weight="bold">203.50</text>
<line class="tb2" x1="392.5" y1="808" x2="416.5" y2="808"/>
<text x="404.5" y="813.0" font-size="5.2" text-anchor="middle" font-weight="bold">38.52</text>
<line class="tb2" x1="392.5" y1="813" x2="416.5" y2="813"/>
<text x="404.5" y="818.6" font-size="5.2" text-anchor="middle" font-weight="bold">107.40</text>
<line class="tb2" x1="392.5" y1="819" x2="416.5" y2="819"/>
<text x="404.5" y="824.2" font-size="5.2" text-anchor="middle" font-weight="bold">47.30</text>
<line class="tb" x1="392.5" y1="825.5" x2="416.5" y2="825.5"/>
<text x="404.5" y="829.8" font-size="5.2" text-anchor="middle" font-weight="bold">53.11</text>
<line class="tb2" x1="392.5" y1="830" x2="416.5" y2="830"/>
<text x="404.5" y="835.4" font-size="5.2" text-anchor="middle" font-weight="bold">31.72</text>
<line class="tb" x1="392.5" y1="836.5" x2="416.5" y2="836.5"/>
<text x="404.5" y="841.0" font-size="5.2" text-anchor="middle" font-weight="bold">144.71</text>
<line class="tb2" x1="392.5" y1="841" x2="416.5" y2="841"/>
<text x="404.5" y="846.6" font-size="5.2" text-anchor="middle" font-weight="bold">24.13</text>
<line class="tb" x1="392.5" y1="847.5" x2="416.5" y2="847.5"/>
<text x="404.5" y="852.2" font-size="5.2" text-anchor="middle" font-weight="bold">52.50</text>
<line class="tb2" x1="392.5" y1="853" x2="416.5" y2="853"/>
<text x="404.5" y="857.8" font-size="5.2" text-anchor="middle" font-weight="bold">57.31</text>
<line class="tb2" x1="392.5" y1="858" x2="416.5" y2="858"/>
<text x="404.5" y="863.4" font-size="5.2" text-anchor="middle" font-weight="bold">86.52</text>
<line class="tb" x1="392.5" y1="864.5" x2="416.5" y2="864.5"/>
<text x="404.5" y="869.0" font-size="5.2" text-anchor="middle" font-weight="bold">53.00</text>
<line class="tb2" x1="392.5" y1="869" x2="416.5" y2="869"/>
<text x="404.5" y="874.6" font-size="5.2" text-anchor="middle" font-weight="bold">17.61</text>
<line class="tb2" x1="392.5" y1="875" x2="416.5" y2="875"/>
<text x="404.5" y="880.2" font-size="5.2" text-anchor="middle" font-weight="bold">40.25</text>
<line class="tb2" x1="392.5" y1="881" x2="416.5" y2="881"/>
<text x="404.5" y="885.8" font-size="5.2" text-anchor="middle" font-weight="bold">60.25</text>
<line class="tb" x1="392.5" y1="886.5" x2="416.5" y2="886.5"/>
<text x="404.5" y="891.4" font-size="5.2" text-anchor="middle" font-weight="bold">80.33</text>
<line class="tb" x1="392.5" y1="892.5" x2="416.5" y2="892.5"/>
<text x="404.5" y="897.0" font-size="5.2" text-anchor="middle" font-weight="bold">39.55</text>
<line class="tb" x1="392.5" y1="897.5" x2="416.5" y2="897.5"/>
<text x="404.5" y="902.6" font-size="5.2" text-anchor="middle" font-weight="bold">2554.48</text>
<text x="383.0" y="768.1" font-size="5.2" text-anchor="middle" font-weight="bold">Գ</text>
<line class="tb" x1="373.5" y1="768.5" x2="392.5" y2="768.5"/>
<text x="383.0" y="773.4" font-size="5.2" text-anchor="middle" font-weight="bold">1</text>
<line class="tb" x1="373.5" y1="774.5" x2="392.5" y2="774.5"/>
<text x="383.0" y="778.8" font-size="5.2" text-anchor="middle" font-weight="bold">2</text>
<line class="tb" x1="373.5" y1="779.5" x2="392.5" y2="779.5"/>
<text x="383.0" y="784.2" font-size="5.2" text-anchor="middle" font-weight="bold">3</text>
<line class="tb" x1="373.5" y1="785.5" x2="392.5" y2="785.5"/>
<text x="383.0" y="789.6" font-size="5.2" text-anchor="middle" font-weight="bold">4</text>
<line class="tb2" x1="373.5" y1="790" x2="392.5" y2="790"/>
<text x="383.0" y="794.9" font-size="5.2" text-anchor="middle" font-weight="bold">5</text>
<line class="tb2" x1="373.5" y1="795" x2="392.5" y2="795"/>
<text x="383.0" y="800.3" font-size="5.2" text-anchor="middle" font-weight="bold">6</text>
<line class="tb" x1="373.5" y1="801.5" x2="392.5" y2="801.5"/>
<text x="383.0" y="805.7" font-size="5.2" text-anchor="middle" font-weight="bold">7</text>
<line class="tb2" x1="373.5" y1="806" x2="392.5" y2="806"/>
<text x="383.0" y="811.1" font-size="5.2" text-anchor="middle" font-weight="bold">8</text>
<line class="tb" x1="373.5" y1="811.5" x2="392.5" y2="811.5"/>
<text x="383.0" y="816.4" font-size="5.2" text-anchor="middle" font-weight="bold">9</text>
<line class="tb" x1="373.5" y1="817.5" x2="392.5" y2="817.5"/>
<text x="383.0" y="821.8" font-size="5.2" text-anchor="middle" font-weight="bold">10</text>
<line class="tb" x1="373.5" y1="822.5" x2="392.5" y2="822.5"/>
<text x="383.0" y="827.2" font-size="5.2" text-anchor="middle" font-weight="bold">11</text>
<line class="tb" x1="373.5" y1="828.5" x2="392.5" y2="828.5"/>
<text x="383.0" y="832.6" font-size="5.2" text-anchor="middle" font-weight="bold">12</text>
<line class="tb" x1="373.5" y1="833.5" x2="392.5" y2="833.5"/>
<text x="383.0" y="837.9" font-size="5.2" text-anchor="middle" font-weight="bold">13</text>
<line class="tb" x1="373.5" y1="838.5" x2="392.5" y2="838.5"/>
<text x="383.0" y="843.3" font-size="5.2" text-anchor="middle" font-weight="bold">14</text>
<line class="tb" x1="373.5" y1="844.5" x2="392.5" y2="844.5"/>
<text x="383.0" y="848.7" font-size="5.2" text-anchor="middle" font-weight="bold">15</text>
<line class="tb" x1="373.5" y1="849.5" x2="392.5" y2="849.5"/>
<text x="383.0" y="854.1" font-size="5.2" text-anchor="middle" font-weight="bold">16</text>
<line class="tb" x1="373.5" y1="854.5" x2="392.5" y2="854.5"/>
<text x="383.0" y="859.5" font-size="5.2" text-anchor="middle" font-weight="bold">17</text>
<line class="tb" x1="373.5" y1="860.5" x2="392.5" y2="860.5"/>
<text x="383.0" y="864.8" font-size="5.2" text-anchor="middle" font-weight="bold">18</text>
<line class="tb" x1="373.5" y1="865.5" x2="392.5" y2="865.5"/>
<text x="383.0" y="870.2" font-size="5.2" text-anchor="middle" font-weight="bold">19</text>
<line class="tb" x1="373.5" y1="871.5" x2="392.5" y2="871.5"/>
<text x="383.0" y="875.6" font-size="5.2" text-anchor="middle" font-weight="bold">20</text>
<line class="tb" x1="373.5" y1="876.5" x2="392.5" y2="876.5"/>
<text x="383.0" y="881.0" font-size="5.2" text-anchor="middle" font-weight="bold">21</text>
<line class="tb" x1="373.5" y1="881.5" x2="392.5" y2="881.5"/>
<text x="383.0" y="886.3" font-size="5.2" text-anchor="middle" font-weight="bold">22</text>
<line class="tb" x1="373.5" y1="887.5" x2="392.5" y2="887.5"/>
<text x="383.0" y="891.7" font-size="5.2" text-anchor="middle" font-weight="bold">23</text>
<line class="tb" x1="373.5" y1="892.5" x2="392.5" y2="892.5"/>
<text x="383.0" y="897.1" font-size="5.2" text-anchor="middle" font-weight="bold">Դ</text>
<line class="tb" x1="373.5" y1="897.5" x2="392.5" y2="897.5"/>
<text x="383.0" y="902.6" font-size="5.2" text-anchor="middle" font-weight="bold">Ընդ.</text>
</g>
<g id="legend">
<line class="ln" x1="114.5" y1="826" x2="114.5" y2="834"/>
<line class="ln" x1="129.5" y1="826" x2="129.5" y2="834"/>
<line class="ln d2" x1="116" y1="833.5" x2="126" y2="833.5"/>
<line class="ln" x1="114.5" y1="839" x2="114.5" y2="847"/>
<line class="ln" x1="129.5" y1="839" x2="129.5" y2="847"/>
<circle cx="120" cy="843" r="2" fill="#000"/>
<line class="ln" x1="114.5" y1="851" x2="114.5" y2="859"/>
<line class="ln" x1="129.5" y1="851" x2="129.5" y2="859"/>
<text x="122" y="858" font-size="6" text-anchor="middle" font-weight="bold">12</text>
<line class="ln" x1="114.5" y1="863" x2="114.5" y2="871"/>
<line class="ln" x1="129.5" y1="863" x2="129.5" y2="871"/>
<line class="ln d1" x1="116" y1="869" x2="128" y2="869"/>
<text x="67.5" y="902" font-size="4.6" text-anchor="middle" font-weight="bold">ԱԲC</text>
<text x="59" y="896" font-size="5" font-weight="bold" transform="rotate(-90 59 896)">455</text>
</g>
</svg>
</div>
</body></html>
